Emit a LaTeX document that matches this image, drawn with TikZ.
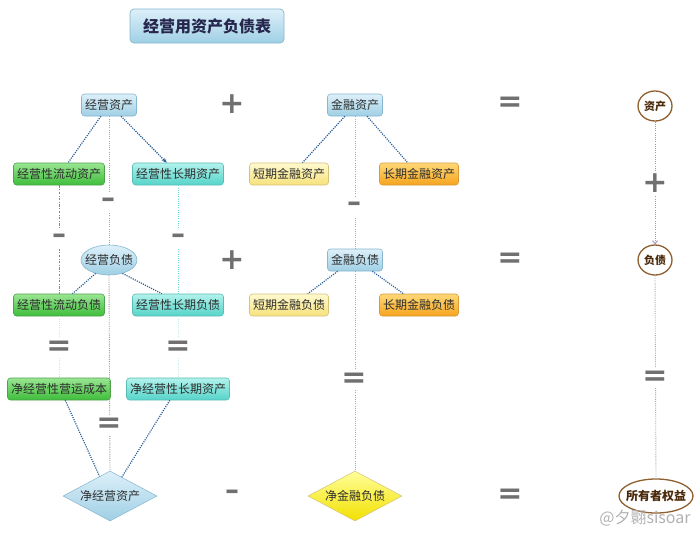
\documentclass[tikz,border=0pt]{standalone}
\usepackage{fontspec}
\setmainfont{Noto Sans CJK SC}
\newfontfamily\opfont{DejaVu Sans}
\usetikzlibrary{shapes.geometric,arrows.meta}
\definecolor{bluetop}{HTML}{DDF0FA}
\definecolor{bluebot}{HTML}{9FCFE4}
\definecolor{blueedge}{HTML}{86B7CF}
\definecolor{greentop}{HTML}{9BE693}
\definecolor{greenbot}{HTML}{3DBD3A}
\definecolor{greenedge}{HTML}{4EA24A}
\definecolor{cyantop}{HTML}{B2F2EC}
\definecolor{cyanbot}{HTML}{55D4C9}
\definecolor{cyanedge}{HTML}{5CBDB5}
\definecolor{ylwtop}{HTML}{FFF9CF}
\definecolor{ylwbot}{HTML}{F6E27C}
\definecolor{ylwedge}{HTML}{D6C37A}
\definecolor{orgtop}{HTML}{FFD877}
\definecolor{orgbot}{HTML}{F5A41E}
\definecolor{orgedge}{HTML}{D99A35}
\definecolor{dmytop}{HTML}{FFFF9A}
\definecolor{dmybot}{HTML}{F2E000}
\definecolor{brownedge}{HTML}{8E6030}
\definecolor{browntext}{HTML}{4A2A0A}
\definecolor{linkblue}{HTML}{245C98}
\definecolor{opgray}{HTML}{707070}
\definecolor{txt}{HTML}{2E2E2E}
\definecolor{vpink}{HTML}{B59AA2}
\definecolor{vbrown}{HTML}{A09088}
\definecolor{vgreenpale}{HTML}{CFE6CF}
\definecolor{vcyanpale}{HTML}{BFEDEA}
\definecolor{vgray}{HTML}{A8A8A8}
\definecolor{vviolet}{HTML}{A593B5}
\definecolor{vgreen}{HTML}{3FB83C}
\begin{document}
\begin{tikzpicture}[x=1pt,y=-1pt,
  box/.style={draw, rounded corners=3pt, minimum height=22pt, inner xsep=3.5pt, inner ysep=0pt,
    font=\fontsize{12}{12}\selectfont, text=txt, line width=0.6pt},
  bluebox/.style={box, top color=bluetop, bottom color=bluebot, draw=blueedge},
  greenbox/.style={box, top color=greentop, bottom color=greenbot, draw=greenedge},
  cyanbox/.style={box, top color=cyantop, bottom color=cyanbot, draw=cyanedge},
  ylwbox/.style={box, top color=ylwtop, bottom color=ylwbot, draw=ylwedge},
  orgbox/.style={box, top color=orgtop, bottom color=orgbot, draw=orgedge},
  blueell/.style={ellipse, draw=blueedge, top color=bluetop, bottom color=bluebot, line width=0.6pt,
    inner sep=0pt, minimum width=56pt, minimum height=30pt, font=\fontsize{12}{12}\selectfont, text=txt},
  ring/.style={ellipse, draw=brownedge, fill=white, line width=1.3pt, inner sep=0pt,
    font=\bfseries\fontsize{11}{11}\selectfont, text=browntext},
  dmd/.style={diamond, inner sep=0pt, minimum width=94pt, minimum height=50pt, line width=0.5pt,
    font=\fontsize{12}{12}\selectfont, text=txt},
  op/.style={font=\opfont\bfseries\fontsize{30}{30}\selectfont, text=opgray, fill=white, inner sep=3pt},
  opm/.style={font=\opfont\bfseries\fontsize{28}{28}\selectfont, text=opgray, fill=white, inner sep=5pt},
  link/.style={draw=linkblue, line width=1.2pt, dash pattern=on 1.1pt off 1.2pt},
  vline/.style={line width=0.9pt, dash pattern=on 1pt off 1.2pt},
]
\useasboundingbox (0,0) rectangle (700,533);
\fill[white] (0,0) rectangle (700,533);

% title
\node[draw=blueedge, rounded corners=4pt, top color=bluetop, bottom color=bluebot, line width=0.7pt,
  minimum width=154pt, minimum height=34pt, inner sep=0pt, font=\bfseries\fontsize{16}{16}\selectfont,
  text=txt!85!blue] (title) at (207,26) {经营用资产负债表};

% row 1
\node[bluebox] (jyzc) at (109,105) {经营资产};
\node[bluebox] (jrzc) at (355,105) {金融资产};
\node[ring, minimum width=34pt, minimum height=30pt] (zc) at (655,106) {\makebox[0pt]{资产}};

% row 2
\node[greenbox] (ldzc) at (59,174) {经营性流动资产};
\node[cyanbox] (cqzc) at (178,174) {经营性长期资产};
\node[ylwbox] (dqjrzc) at (289,174) {短期金融资产};
\node[orgbox] (cqjrzc) at (419,174) {长期金融资产};

% row 3
\node[blueell] (jyfz) at (109,260) {\makebox[0pt]{经营负债}};
\node[bluebox] (jrfz) at (355,260) {金融负债};
\node[ring, minimum width=34pt, minimum height=30pt] (fz) at (655,260) {\makebox[0pt]{负债}};

% row 4
\node[greenbox] (ldfz) at (59,305) {经营性流动负债};
\node[cyanbox] (cqfz) at (178,305) {经营性长期负债};
\node[ylwbox] (dqjrfz) at (289,305) {短期金融负债};
\node[orgbox] (cqjrfz) at (419,305) {长期金融负债};

% row 5
\node[greenbox] (yycb) at (59,389) {净经营性营运成本};
\node[cyanbox] (jcqzc) at (178,389) {净经营性长期资产};

% row 6
\node[dmd, draw=blueedge, top color=bluetop, bottom color=bluebot] (jjyzc) at (110,496) {\makebox[0pt]{净经营资产}};
\node[dmd, draw=ylwedge, top color=dmytop, bottom color=dmybot] (jjrfz) at (355,496) {\makebox[0pt]{净金融负债}};
\node[ring, minimum width=74pt, minimum height=34pt, font=\bfseries\fontsize{12}{12}\selectfont] (syzqy) at (656,496) {\makebox[0pt]{所有者权益}};

% watermark
\node[font=\fontsize{16}{16}\selectfont, text=black!30] (wm) at (645,518) {@夕翾sisoar};

% vertical connectors (operators drawn over them)
\draw[vline, draw=vpink] (jyzc.south) -- (jyfz.north);
\draw[vline, draw=vbrown] (jyfz.south) -- (jjyzc.north);
\draw[line width=0.9pt, draw=vgreen, dash pattern=on 2.5pt off 1.5pt on 0.8pt off 1.5pt] (ldzc.south) -- (ldfz.north);
\draw[vline, draw=vgreenpale] (ldfz.south) -- (yycb.north);
\draw[vline, draw=cyanbot!85] (cqzc.south) -- (cqfz.north);
\draw[vline, draw=vcyanpale] (cqfz.south) -- (jcqzc.north);
\draw[vline, draw=vgray] (jrzc.south) -- (jrfz.north);
\draw[vline, draw=vgray] (jrfz.south) -- (jjrfz.north);
\draw[vline, draw=vviolet, -{Straight Barb[length=3pt,width=5pt]}] (zc.south) -- (fz.north);
\draw[vline, draw=vgray] (fz.south) -- (syzqy.north);

% tree connectors
\draw[link] (jyzc.234) -- (ldzc.51);
\draw[link, -{Stealth[length=5pt,width=4pt]}] (jyzc.317) -- (cqzc.135);
\draw[link] (jrzc.228) -- (dqjrzc.40);
\draw[link] (jrzc.317) -- (cqjrzc.135);
\draw[link] (jyfz.225) -- (ldfz.40);
\draw[link] (jyfz.315) -- (cqfz.145);
\draw[link] (jrfz.213) -- (dqjrfz.31);
\draw[link] (jrfz.327) -- (cqjrfz.144);
\draw[link] (yycb.299) -- (jjyzc.118);
\draw[link] (jcqzc.234) -- (jjyzc.58);

% operators
\node[op] (p1) at (232,104) {+};
\node[op] (e1) at (510,104) {=};
\node[opm] (m1) at (108,203) {–};
\node[opm] (m2) at (59,239) {–};
\node[opm] (m3) at (178,239) {–};
\node[opm] (m4) at (354,207) {–};
\node[op] (p2) at (655,183) {+};
\node[op] (p3) at (232,260) {+};
\node[op] (e2) at (510,260) {=};
\node[op] (e3) at (59,348) {=};
\node[op] (e4) at (178,348) {=};
\node[op] (e5) at (354,380) {=};
\node[op] (e6) at (655,378) {=};
\node[op] (e7) at (109,425) {=};
\node[opm, fill=none] (m5) at (232,495) {–};
\node[op, fill=none] (e8) at (510,496) {=};
\end{tikzpicture}
\end{document}
